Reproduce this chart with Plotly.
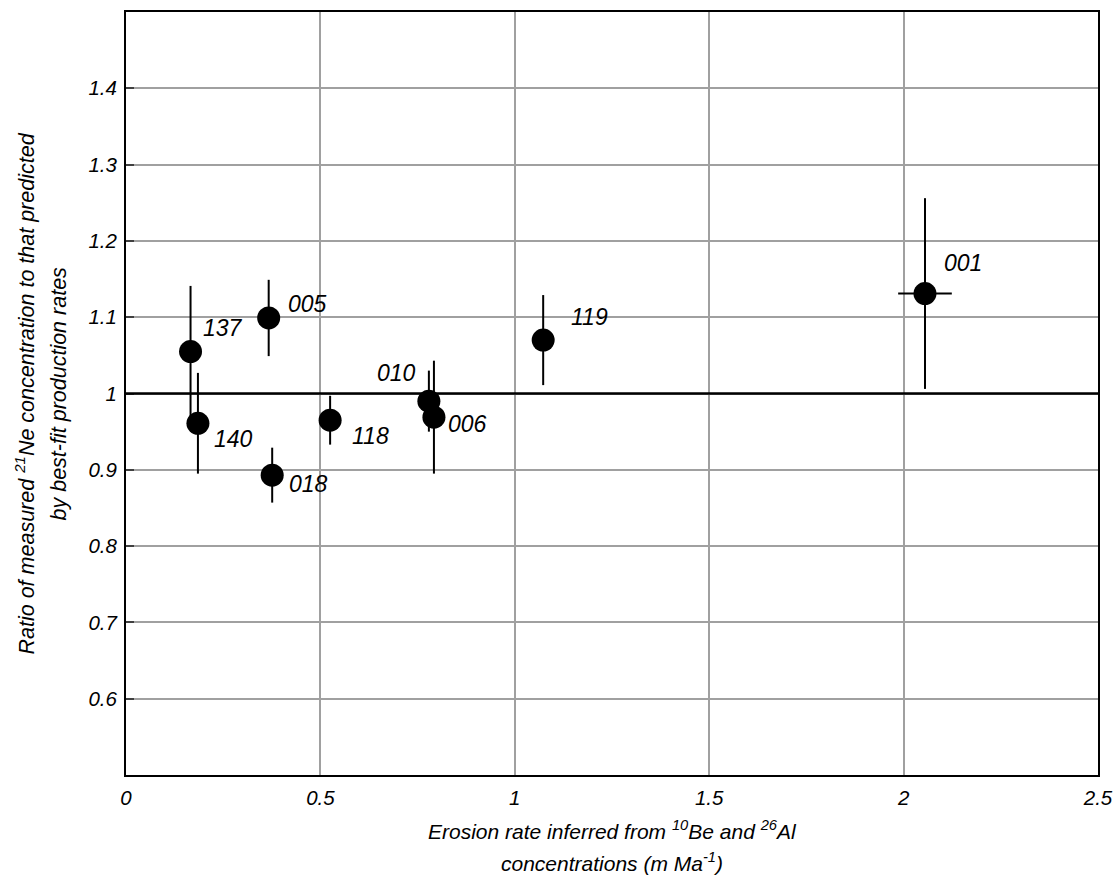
import plotly.graph_objects as go

# ---- data ----
samples = ["137", "140", "005", "018", "118", "010", "006", "119", "001"]
erosion_rate = [0.166, 0.185, 0.367, 0.376, 0.525, 0.779, 0.792, 1.073, 2.055]
erosion_err = [0, 0, 0, 0, 0, 0, 0, 0, 0.069]
ne_ratio = [1.055, 0.961, 1.099, 0.893, 0.965, 0.990, 0.969, 1.070, 1.131]
ne_ratio_err = [0.086, 0.066, 0.050, 0.036, 0.032, 0.040, 0.074, 0.059, 0.125]
reference_ratio = 1.0

x_ticks = [0, 0.5, 1, 1.5, 2, 2.5]
x_tick_labels = ["0", "0.5", "1", "1.5", "2", "2.5"]
y_ticks = [0.6, 0.7, 0.8, 0.9, 1.0, 1.1, 1.2, 1.3, 1.4]
y_tick_labels = ["0.6", "0.7", "0.8", "0.9", "1", "1.1", "1.2", "1.3", "1.4"]

x_title_lines = ["Erosion rate inferred from <sup>10</sup>Be and <sup>26</sup>Al",
                 "concentrations (m Ma<sup>-1</sup>)"]
y_title_lines = ["Ratio of measured <sup>21</sup>Ne concentration to that predicted",
                 "by best-fit production rates"]

# label offsets (pixels) from each point
label_dx = [32, 36, 39, 36, 40, -32, 34, 46, 38]
label_dy = [24, -16, 14, -9, -16, 28, -7, 23, 31]

FONT = "Liberation Sans, Arial, sans-serif"
W, H = 1114, 880
ML, MR, MT, MB = 126, 16, 12, 105

fig = go.Figure()
fig.add_trace(go.Scatter(
    x=erosion_rate, y=ne_ratio, mode="markers",
    marker=dict(size=23, color="black"),
    error_y=dict(type="data", array=ne_ratio_err, visible=True,
                 color="black", thickness=2, width=0),
    error_x=dict(type="data", array=erosion_err, visible=True,
                 color="black", thickness=2, width=0),
    showlegend=False,
))

fig.add_shape(type="line", xref="paper", yref="y", x0=0, x1=1,
              y0=reference_ratio, y1=reference_ratio,
              line=dict(color="black", width=2.5), layer="above")

for s, x, y, dx, dy in zip(samples, erosion_rate, ne_ratio, label_dx, label_dy):
    fig.add_annotation(x=x, y=y, text=s, showarrow=False, xshift=dx, yshift=dy,
                       font=dict(family=FONT, size=23, color="black", style="italic"))

# axis titles as paper-anchored annotations (pixel offsets below / left of the plot)
x_title_font = dict(family=FONT, size=21, color="black", style="italic")
y_title_font = dict(family=FONT, size=21.5, color="black", style="italic")
for line, yshift in zip(x_title_lines, [-55, -87]):
    fig.add_annotation(xref="paper", yref="paper", x=0.5, y=0, text=line,
                       showarrow=False, yshift=yshift, yanchor="middle",
                       font=x_title_font)
for line, xshift in zip(y_title_lines, [-102, -68]):
    fig.add_annotation(xref="paper", yref="paper", x=0, y=0.5, text=line,
                       showarrow=False, xshift=xshift, xanchor="center",
                       textangle=-90, font=y_title_font)

fig.update_layout(
    width=W, height=H,
    margin=dict(l=ML, r=MR, t=MT, b=MB, autoexpand=False),
    paper_bgcolor="white", plot_bgcolor="white",
    font=dict(family=FONT, color="black"),
)
fig.update_xaxes(
    range=[0, 2.5], tickvals=x_ticks, ticktext=x_tick_labels,
    showgrid=True, gridcolor="#a0a0a0", gridwidth=1.5,
    showline=True, linecolor="black", linewidth=2, mirror=True,
    ticks="", zeroline=False, ticklabelstandoff=3, ticklabeloverflow="allow",
    tickfont=dict(family=FONT, size=20.5, style="italic"),
)
fig.update_yaxes(
    range=[0.5, 1.5], tickvals=y_ticks, ticktext=y_tick_labels,
    showgrid=True, gridcolor="#a0a0a0", gridwidth=1.5,
    showline=True, linecolor="black", linewidth=2, mirror=True,
    ticks="inside", ticklen=8, tickcolor="#404040", tickwidth=1.5, zeroline=False,
    ticklabelstandoff=3,
    tickfont=dict(family=FONT, size=20.5, style="italic"),
)

fig.write_html("out.html", config={"displayModeBar": False},
               post_script="document.body.style.margin='0';document.body.style.overflow='hidden';")
